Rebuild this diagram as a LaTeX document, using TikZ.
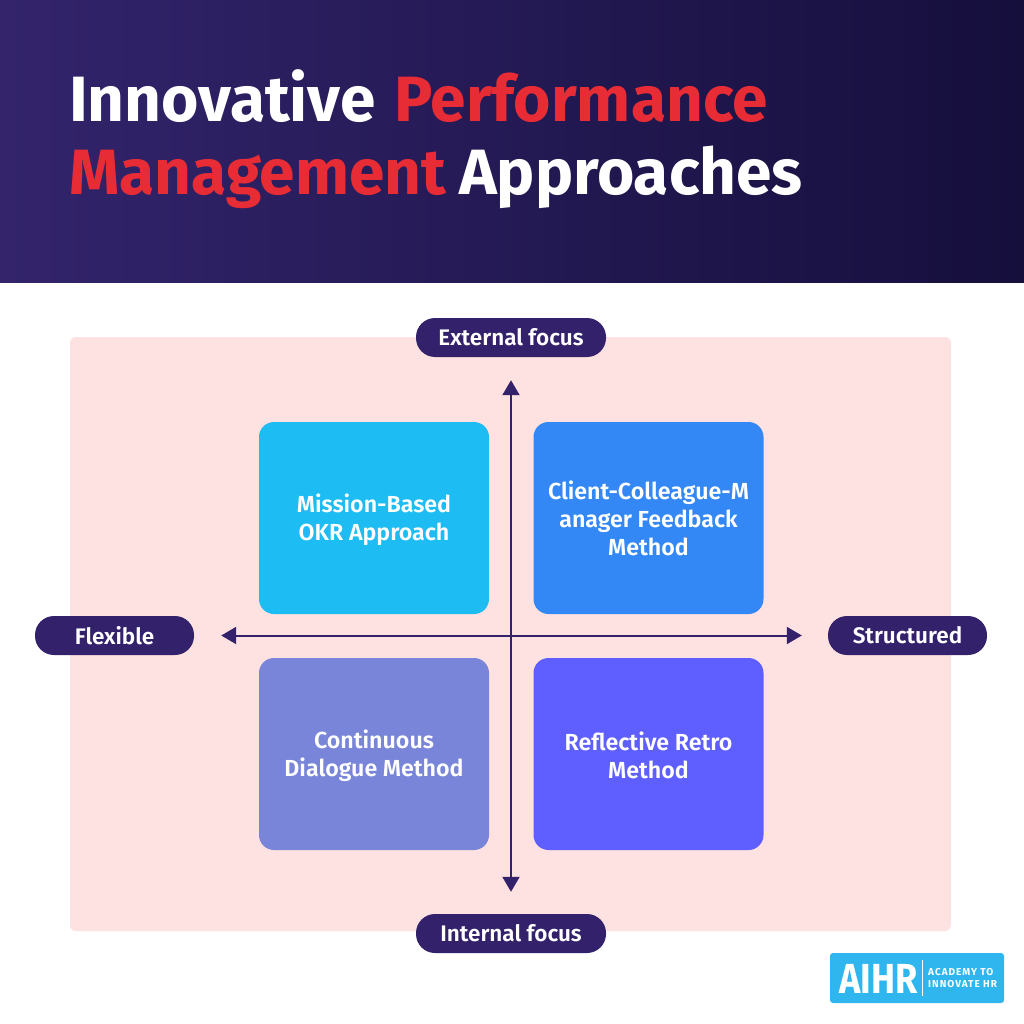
\documentclass[tikz,border=0pt]{standalone}
\usepackage{fontspec}
\setmainfont{Fira Sans}
\newfontfamily\semib{Fira Sans SemiBold}
\newfontfamily\logofont[FakeStretch=0.86]{Fira Sans}
\newfontfamily\tagfont[LetterSpace=10]{Fira Sans}
\usetikzlibrary{arrows.meta}
\definecolor{navy}{HTML}{33226B}
\definecolor{navyL}{HTML}{33246C}
\definecolor{navyR}{HTML}{150F3C}
\definecolor{pinkbg}{HTML}{FEE1E1}
\definecolor{titlered}{HTML}{E82C36}
\definecolor{cA}{HTML}{1DBCF2}
\definecolor{cB}{HTML}{3388F5}
\definecolor{cC}{HTML}{7985D9}
\definecolor{cD}{HTML}{5F5FFF}
\definecolor{logoblue}{HTML}{2FB6EE}
\tikzset{
  pill/.style={fill=navy,rounded corners=19pt,minimum height=39pt,inner sep=0pt,text=white,
    font=\semib\fontsize{22.5}{24}\selectfont,anchor=center},
  quad/.style={rounded corners=15pt,minimum width=230pt,minimum height=192pt,inner sep=0pt,anchor=center},
  quadtext/.style={inner sep=0pt,text=white,align=center,font=\semib\fontsize{23.2}{28}\selectfont,anchor=center},
  axis/.style={draw=navy,line width=2pt,{Triangle[length=15pt,width=17pt]}-{Triangle[length=15pt,width=17pt]}},
  titletext/.style={anchor=base west,inner sep=0pt,font=\fontsize{64}{64}\selectfont\bfseries},
}
\begin{document}
\begin{tikzpicture}[x=1pt,y=-1pt]
\useasboundingbox (0,0) rectangle (1024,1024);
\fill[white] (0,0) rectangle (1024,1024);
\shade[left color=navyL,right color=navyR] (0,0) rectangle (1024,282);
\node[titletext,text=white] (t1) at (69,122) {Innovative};
\node[titletext,text=titlered] (t2) at (394,122) {Performance};
\node[titletext,text=titlered] (t3) at (69,195) {Management};
\node[titletext,text=white] (t4) at (459,195) {Approaches};
\fill[pinkbg,rounded corners=6pt] (70,337) rectangle (951,931);
\node[quad,fill=cA] (q1) at (374,518) {};
\node[quad,fill=cB] (q2) at (648.5,518) {};
\node[quad,fill=cC] (q3) at (374,754) {};
\node[quad,fill=cD] (q4) at (648.5,754) {};
\node[quadtext] (q1t) at (374,520) {Mission-Based\\OKR Approach};
\node[quadtext] (q2t) at (648.5,518.5) {Client-Colleague-M\\anager Feedback\\Method};
\node[quadtext] (q3t) at (374,756) {Continuous\\Dialogue Method};
\node[quadtext] (q4t) at (648.5,755) {Reflective Retro\\Method};
\node[pill,minimum width=190pt] (ext) at (511,337.5) {External focus};
\node[pill,minimum width=190pt] (int) at (511,933.5) {Internal focus};
\node[pill,minimum width=159pt] (flex) at (114.5,635.5) {Flexible};
\node[pill,minimum width=159pt] (str) at (907.5,635.5) {Structured};
\draw[axis,shorten <=23pt,shorten >=22pt] (ext.south) -- (int.north);
\draw[axis,shorten <=27pt,shorten >=26pt] (flex.east) -- (str.west);
\node[fill=logoblue,rounded corners=3pt,minimum width=174pt,minimum height=50pt,inner sep=0pt] (logo) at (917,978) {};
\node[anchor=base west,inner sep=0pt,text=white,font=\logofont\fontsize{42}{42}\selectfont\bfseries] (aihr) at (839,993) {AIHR};
\node[anchor=west,inner sep=0pt,text=white,align=left,font=\tagfont\fontsize{10}{11.5}\selectfont\bfseries] (tag) at (928,978) {ACADEMY TO\\INNOVATE HR};
\coordinate (d1) at (922,960);
\coordinate (d2) at (922,996);
\draw[white,line width=0.8pt] (d1) -- (d2);
\end{tikzpicture}
\end{document}
